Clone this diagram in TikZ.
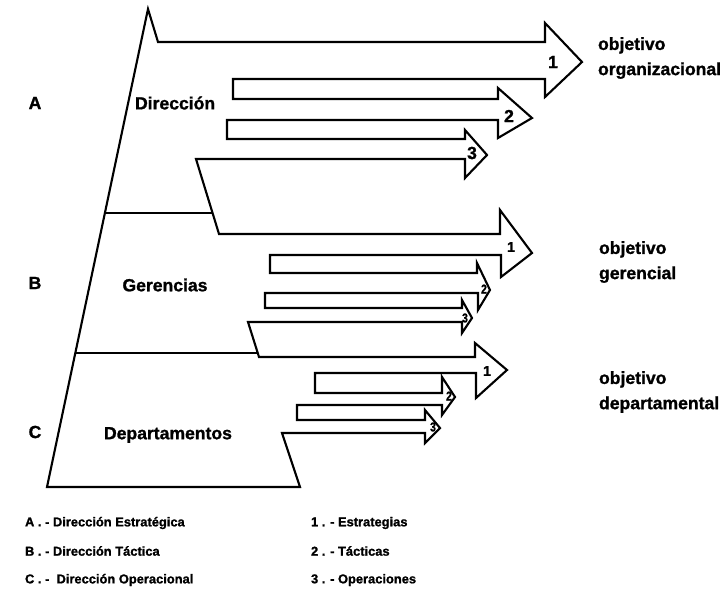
\documentclass[tikz,border=0pt]{standalone}
\usepackage{fontspec}
\setmainfont{Liberation Sans}[BoldFeatures={FakeBold=1.2}]
\tikzset{
  lvl/.style={font=\bfseries\fontsize{15}{21.5}\selectfont, inner sep=0pt},
  num/.style={font=\bfseries\fontsize{15}{15}\selectfont, inner sep=0pt},
  nummid/.style={font=\bfseries\fontsize{12}{12}\selectfont, inner sep=0pt},
  numsm/.style={font=\bfseries\fontsize{11}{11}\selectfont, inner sep=0pt, xscale=0.8},
  legend/.style={font=\bfseries\fontsize{11}{11}\selectfont, inner sep=0pt, anchor=west},
}
\begin{document}
\begin{tikzpicture}[x=0.03cm, y=-0.03cm, line width=1.8pt]
  \useasboundingbox (0,0) rectangle (728,605);
  \draw (148,9) -- (158,42) -- (545,42) -- (545,23) -- (582,62) -- (545,97) -- (545,79)
    -- (233,79) -- (233,99) -- (498,99) -- (498,88) -- (532,118) -- (498,138) -- (498,120)
    -- (227,120) -- (227,139) -- (465,139) -- (465,130) -- (487,155) -- (465,178) -- (465,159)
    -- (196,159) -- (219,234) -- (500,234) -- (500,210) -- (532,253) -- (501,277) -- (501,255)
    -- (270,255) -- (270,273) -- (477,273) -- (477,263) -- (490,290) -- (478,310) -- (478,293)
    -- (265,293) -- (265,308) -- (462,308) -- (462,300) -- (472,318) -- (462,333) -- (462,322)
    -- (248,322) -- (259,357) -- (475,357) -- (475,343) -- (507,370) -- (476,398) -- (476,373)
    -- (315,373) -- (315,393) -- (442,393) -- (442,377) -- (455,397) -- (442,415) -- (442,405)
    -- (297,405) -- (297,420) -- (425,420) -- (425,410) -- (440,428) -- (425,443) -- (425,433)
    -- (282,433) -- (300,487) -- (47,487) -- cycle;
  \draw (105,213) -- (212,213);
  \draw (75,353) -- (258,353);

  \node[lvl] (la) at (35,103) {A};
  \node[lvl] (lb) at (35,283) {B};
  \node[lvl] (lc) at (35,432) {C};
  \node[lvl, anchor=west] (dir) at (134,103) {Dirección};
  \node[lvl] (ger) at (165,285) {Gerencias};
  \node[lvl] (dep) at (168,435) {Departamentos};

  \node[num] (a1) at (553,62) {1};
  \node[num] (a2) at (509,116) {2};
  \node[num] (a3) at (472,153) {3};
  \node[nummid] (b1) at (511,247) {1};
  \node[numsm] (b2) at (484,289) {2};
  \node[numsm] (b3) at (465,318) {3};
  \node[nummid] (c1) at (487,371) {1};
  \node[numsm] (c2) at (449,396) {2};
  \node[numsm] (c3) at (433,427) {3};

  \node[lvl, anchor=west, align=left] (oa) at (597,58) {objetivo\\organizacional};
  \node[lvl, anchor=west, align=left] (ob) at (598,262) {objetivo\\gerencial};
  \node[lvl, anchor=west, align=left] (oc) at (598,392) {objetivo\\departamental};

  \node[legend] (ka) at (24,523) {A . - Dirección Estratégica};
  \node[legend] (kb) at (24,551) {B . - Dirección Táctica};
  \node[legend] (kc) at (24,580) {C . -\ \ Dirección Operacional};
  \node[legend] (k1) at (310,523) {1 . - Estrategias};
  \node[legend] (k2) at (310,551) {2 . - Tácticas};
  \node[legend] (k3) at (310,580) {3 . - Operaciones};
\end{tikzpicture}
\end{document}
